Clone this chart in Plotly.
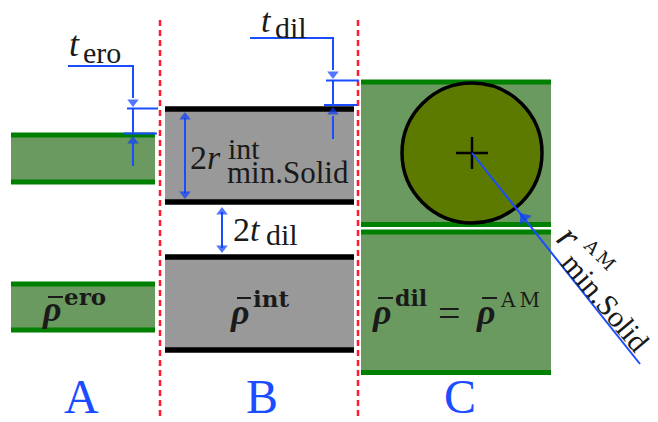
import plotly.graph_objects as go

# Diagram geometry (x, y in picture units; y grows downward)
GREEN_BANDS = [(11, 155, 135, 182), (11, 155, 284, 330), (361, 551, 82, 224.5), (361, 551, 232, 372.5)]
GRAY_BANDS = [(165, 354, 109, 202), (165, 354, 257, 350)]
DIVIDERS = [160, 358]
DIVIDER_SPAN = [20, 418]
CIRCLE_CENTER = (472, 153)
CIRCLE_R = 70
BLUE_PATHS = [
    ([68, 133, 133], [66, 66, 98]),
    ([127, 158], [108.5, 108.5]),
    ([124, 157], [133.5, 133.5]),
    ([133, 133], [108.5, 133.5]),
    ([133, 133], [166, 143]),
    ([250, 333, 333], [38, 38, 70]),
    ([326, 359], [80.5, 80.5]),
    ([324, 357], [105, 105]),
    ([333, 333], [80.5, 105]),
    ([333, 333], [139, 116]),
    ([185, 185], [118, 193]),
    ([222, 222], [212, 248]),
    ([640, 472], [364, 153]),
]
ARROW_X = [133, 133, 333, 333, 185, 185, 222, 222, 524]
ARROW_Y = [102, 141, 74, 112, 117, 194, 212, 248, 218]
ARROW_ANGLE = [180, 0, 180, 0, 0, 180, 0, 180, -38.5]
ARROW_SIZE = [10, 10, 10, 10, 10, 10, 10, 10, 13]
MACRONS = [(48, 63, 297), (237, 251, 298), (378, 393, 298), (482, 497, 298)]
SERIF = "Liberation Serif"
WIDE = "DejaVu Serif"
TEXT_ITEMS = [
    ("<i>t</i>", 69, 44, 36, 0, "left", SERIF),
    ("ero", 83, 52, 30, 0, "left", SERIF),
    ("<i>t</i>", 261, 20, 34, 0, "left", SERIF),
    ("dil", 275, 27, 30, 0, "left", SERIF),
    ("2<i>r</i>", 190, 157, 34, 0, "left", SERIF),
    ("int", 228, 148, 30, 0, "left", SERIF),
    ("min.Solid", 227, 172, 31, 0, "left", SERIF),
    ("2<i>t</i>", 233, 229, 34, 0, "left", SERIF),
    ("dil", 266, 234, 30, 0, "left", SERIF),
    ("<b><i>ρ</i></b>", 42, 309, 36, 0, "left", SERIF),
    ("<b>ero</b>", 64, 296, 23, 0, "left", WIDE),
    ("<b><i>ρ</i></b>", 230, 312, 36, 0, "left", SERIF),
    ("<b>int</b>", 253, 298, 23, 0, "left", WIDE),
    ("<b><i>ρ</i></b>", 372, 312, 36, 0, "left", SERIF),
    ("<b>dil</b>", 395, 298, 22, 0, "left", WIDE),
    ("=", 438, 313, 40, 0, "left", SERIF),
    ("<b><i>ρ</i></b>", 476, 312, 36, 0, "left", SERIF),
    ("A\u2009M", 500, 300, 20, 0, "left", WIDE),
    ("<i>r</i>", 569, 236, 38, 45, "center", SERIF),
    ("A\u2009M", 600, 254, 18, 45, "center", WIDE),
    ("min.Solid", 606, 302, 30, 50, "center", SERIF),
]
LETTERS = [("A", 81, 396), ("B", 262, 396), ("C", 460, 396)]

fig = go.Figure()


def band(x0, x1, y0, y1, fill, edge, w):
    fig.add_trace(go.Scatter(x=[x0, x1, x1, x0, x0], y=[y0, y0, y1, y1, y0], mode="none",
                             fill="toself", fillcolor=fill, hoverinfo="skip"))
    for y in (y0, y1):
        fig.add_trace(go.Scatter(x=[x0, x1], y=[y, y], mode="lines",
                                 line=dict(color=edge, width=w), hoverinfo="skip"))


for b in GREEN_BANDS:
    band(*b, "#6a9a60", "#008000", 5)
for b in GRAY_BANDS:
    band(*b, "#999999", "#000000", 5.5)

cx, cy = CIRCLE_CENTER
fig.add_trace(go.Scatter(x=[cx], y=[cy], mode="markers", hoverinfo="skip",
                         marker=dict(symbol="circle", size=2 * CIRCLE_R, color="#5c7a00",
                                     line=dict(color="#000000", width=3.5))))
fig.add_trace(go.Scatter(x=[cx - 16, cx + 16, None, cx, cx], y=[cy, cy, None, cy - 16, cy + 16],
                         mode="lines", line=dict(color="black", width=2.5), hoverinfo="skip"))

for x in DIVIDERS:
    fig.add_trace(go.Scatter(x=[x, x], y=DIVIDER_SPAN, mode="lines",
                             line=dict(color="#ff1a2e", width=2.5, dash="6px,4px"), hoverinfo="skip"))

for xs, ys in BLUE_PATHS:
    fig.add_trace(go.Scatter(x=xs, y=ys, mode="lines", line=dict(color="#1a4dff", width=2), hoverinfo="skip"))
fig.add_trace(go.Scatter(x=ARROW_X, y=ARROW_Y, mode="markers", hoverinfo="skip",
                         marker=dict(symbol="triangle-up", size=ARROW_SIZE, color="#0a3cff",
                                     angle=ARROW_ANGLE, line=dict(width=0))))

for x0, x1, y in MACRONS:
    fig.add_trace(go.Scatter(x=[x0, x1], y=[y, y], mode="lines",
                             line=dict(color="#1a1a1a", width=2), hoverinfo="skip"))

ann = []
for t, x, y, s, rot, anc, fam in TEXT_ITEMS:
    ann.append(dict(text=t, x=x, y=y, xref="x", yref="y", showarrow=False, xanchor=anc, yanchor="middle",
                    textangle=rot, font=dict(family=fam, size=s, color="#1a1a1a"),
                    borderpad=0, borderwidth=0))
for t, x, y in LETTERS:
    ann.append(dict(text=t, x=x, y=y, xref="x", yref="y", showarrow=False, xanchor="center", yanchor="middle",
                    font=dict(family=SERIF, size=48, color="#1a4dff")))

fig.update_layout(
    width=658, height=422, margin=dict(l=0, r=0, t=0, b=0), showlegend=False,
    paper_bgcolor="white", plot_bgcolor="white", annotations=ann,
    xaxis=dict(range=[0, 658], visible=False, fixedrange=True),
    yaxis=dict(range=[422, 0], visible=False, fixedrange=True),
)
# Remove the page body's default margin so the plot fills the window exactly.
fig.write_html("out.html", config=dict(displayModeBar=False),
               post_script="document.body.style.margin='0';document.body.style.overflow='hidden';")
